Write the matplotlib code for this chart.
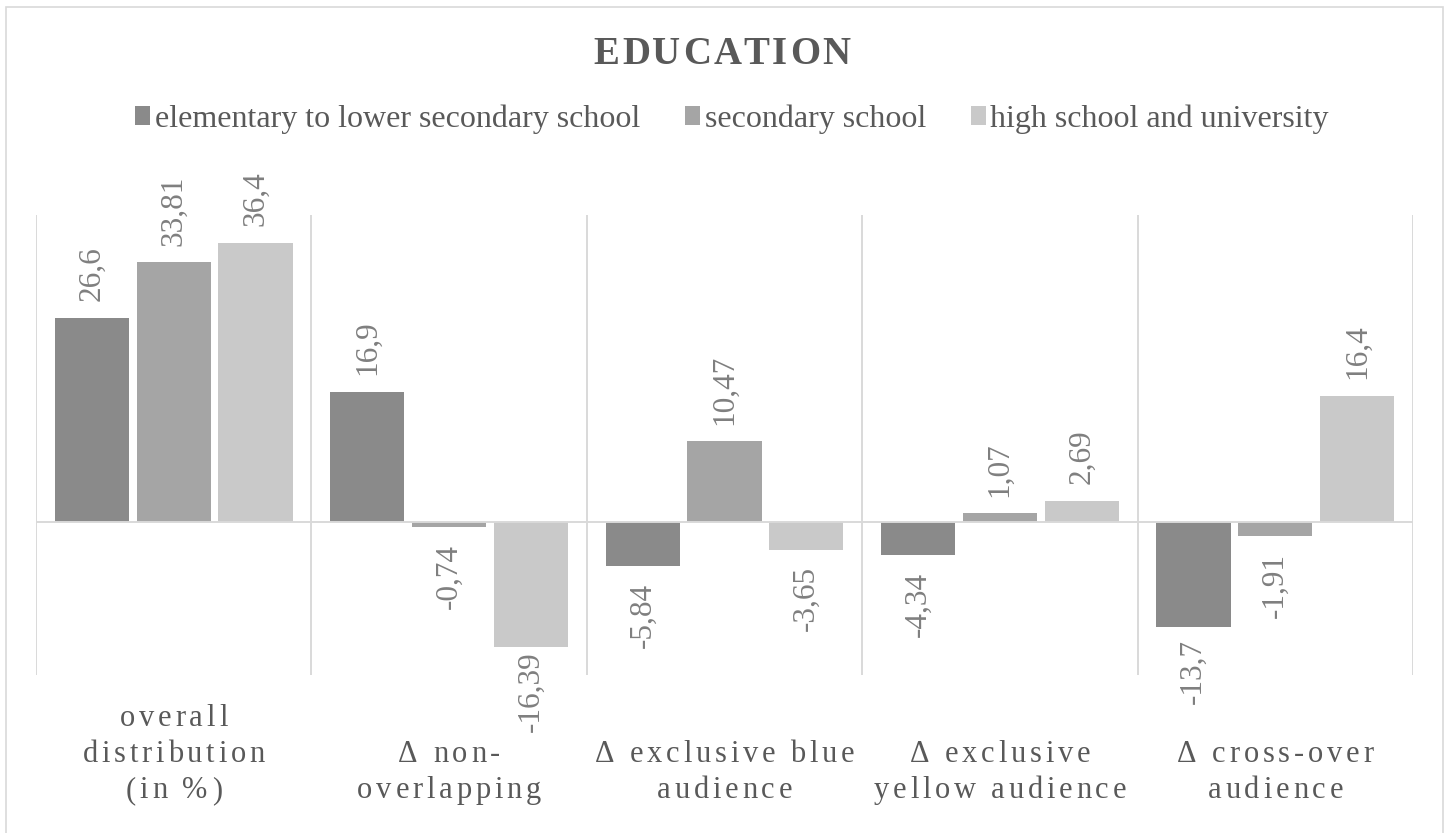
import numpy as np
import matplotlib
matplotlib.use('Agg')
import matplotlib.pyplot as plt
from matplotlib import font_manager
from matplotlib.font_manager import FontProperties
from matplotlib.ft2font import FT2Font
from matplotlib.transforms import offset_copy, blended_transform_factory
from matplotlib.patches import Rectangle

categories = ['overall\ndistribution\n(in %)',
              'Δ non-\noverlapping',
              'Δ exclusive blue\naudience',
              'Δ exclusive\nyellow audience',
              'Δ cross-over\naudience']
series_names = ['elementary to lower secondary school', 'secondary school',
                'high school and university']
elementary = [26.6, 16.9, -5.84, -4.34, -13.7]
secondary = [33.81, -0.74, 10.47, 1.07, -1.91]
high_school = [36.4, -16.39, -3.65, 2.69, 16.4]

colors = ['#8a8a8a', '#a5a5a5', '#c9c9c9']
grid_color = '#d9d9d9'
text_color = '#595959'
label_color = '#7f7f7f'
SERIF = ['Liberation Serif', 'DejaVu Serif']

# labels that sit closer to the bar end in the original (series, category): points
label_gap = {(2, 1): 3, (0, 4): 8.5}

W, H, DPI = 1451, 833, 100
fig = plt.figure(figsize=(W / DPI, H / DPI), dpi=DPI)
fig.patch.set_facecolor('white')

# chart area border
fig.patches.append(Rectangle((6 / W, -0.02), (1443 - 6) / W, 1.02 - 7 / H,
                             transform=fig.transFigure, fill=False,
                             edgecolor=grid_color, lw=1.2))

ax = fig.add_axes([36 / W, 1 - 675 / H, (1413 - 36) / W, (675 - 215) / H])
ax.set_xlim(-0.5, 4.5)
ax.set_ylim(-20, 40)
ax.axis('off')

x = np.arange(len(categories))
width = 0.269
step = 0.297
bars = []
for i, vals in enumerate([elementary, secondary, high_school]):
    b = ax.bar(x + (i - 1) * step, vals, width, color=colors[i], zorder=2)
    bars.append(b)
    for j, (xi, v) in enumerate(zip(x + (i - 1) * step, vals)):
        gap = label_gap.get((i, j), 12)
        ax.annotate(str(v).replace('.', ','), (xi, v),
                    xytext=(0, gap if v >= 0 else -gap),
                    textcoords='offset points', rotation=90, ha='center',
                    va='bottom' if v >= 0 else 'top', fontsize=22.5,
                    color=label_color, family=SERIF)

# category separators and zero line
for xs in np.arange(-0.5, 5, 1):
    ax.axvline(xs, color=grid_color, lw=1.4, zorder=1)
ax.axhline(0, color=grid_color, lw=1.4, zorder=3)


def spaced_text(x0, y0, s, trans, size, spacing, weight='normal', color=text_color):
    """draw s centred on x0 with extra letter spacing (in pixels)"""
    prop = FontProperties(family='Liberation Serif', size=size, weight=weight)
    font = FT2Font(font_manager.findfont(prop))
    font.set_size(size, DPI)
    adv = [font.load_char(ord(c)).linearHoriAdvance / 65536 for c in s]
    total = sum(adv) + spacing * (len(s) - 1)
    pos = -total / 2
    for c, a in zip(s, adv):
        if c != ' ':
            t = offset_copy(trans, x=pos + a / 2, y=0, units='dots')
            fig.text(x0, y0, c, transform=t, ha='center', va='baseline',
                     fontsize=size, fontweight=weight, color=color, family=SERIF)
        pos += a + spacing


# title
spaced_text(722 / W, 1 - 64 / H, 'EDUCATION', fig.transFigure, 28, 2.4, weight='bold')

# category labels
btrans = blended_transform_factory(ax.transData, fig.transFigure)
for xi, cat in zip(x, categories):
    lines = cat.split('\n')
    for k, line in enumerate(lines):
        base = 798 - 36 * (len(lines) - 1 - k)
        spaced_text(xi, 1 - base / H, line, btrans, 22, 3.8)

# legend
leg = fig.legend([b[0] for b in bars], series_names, loc='center',
                 bbox_to_anchor=(732 / W, 1 - 119 / H), ncol=3, frameon=False,
                 prop=FontProperties(family=SERIF, size=23),
                 handlelength=0.47, handleheight=0.5, handletextpad=0.15,
                 columnspacing=1.4, labelcolor=text_color)

fig.savefig('out.png', dpi=DPI)
